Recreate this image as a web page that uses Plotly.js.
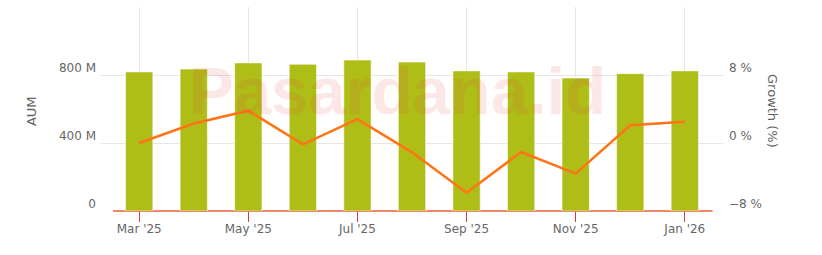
<!DOCTYPE html>
<html>
<head>
<meta charset="utf-8">
<script src="https://cdn.plot.ly/plotly-3.0.1.min.js"></script>
<style>
  html, body { margin: 0; padding: 0; background: #fff; }
  #chart { width: 822px; height: 255px; }
</style>
</head>
<body>
<div id="chart"></div>
<script>
// Data
const months = ["Mar '25", "Apr '25", "May '25", "Jun '25", "Jul '25", "Aug '25",
                "Sep '25", "Oct '25", "Nov '25", "Dec '25", "Jan '26"];
const aumMillions = [818, 835, 871, 863, 888, 876, 824, 818, 782, 808, 824];
const growthPct = [0, 2.3, 3.8, -0.15, 2.8, -1.1, -5.85, -1.06, -3.6, 2.08, 2.5];

const xTickVals = ["Mar '25", "May '25", "Jul '25", "Sep '25", "Nov '25", "Jan '26"];
const aumTickVals = [0, 400, 800, 1200];
const aumTickText = ["0", "400 M", "800 M", ""];
const growthTickVals = [-8, 0, 8, 16];
const growthTickText = ["\u22128 %", "0 %", "8 %", ""];

const fontFamily = "DejaVu Sans, Verdana, sans-serif";
const gray = "#666666";

const traces = [
  {
    type: "bar",
    x: months,
    y: aumMillions,
    yaxis: "y",
    width: 0.5,
    marker: { color: "#afbd17", line: { color: "rgba(255,255,255,0.55)", width: 1 } },
    hoverinfo: "x+y",
    name: "AUM"
  },
  {
    type: "scatter",
    mode: "lines",
    x: months,
    y: growthPct,
    yaxis: "y2",
    line: { color: "#ff7417", width: 2.5 },
    name: "Growth (%)"
  }
];

const layout = {
  width: 822,
  height: 255,
  margin: { l: 101, r: 99, t: 7, b: 44 },
  paper_bgcolor: "#ffffff",
  plot_bgcolor: "#ffffff",
  showlegend: false,
  font: { family: fontFamily, size: 12, color: gray },
  xaxis: {
    type: "category",
    range: [-0.7, 10.7],
    tickvals: xTickVals,
    ticktext: xTickVals,
    ticks: "outside",
    ticklen: 10,
    tickwidth: 1,
    tickcolor: "#d9363e",
    ticklabelstandoff: -3,
    showgrid: true,
    gridcolor: "#e6e6e6",
    gridwidth: 1,
    showline: false,
    zeroline: false,
    tickfont: { family: fontFamily, size: 12, color: gray },
    fixedrange: true
  },
  yaxis: {
    range: [0, 1200],
    tickvals: aumTickVals,
    ticktext: aumTickText,
    showgrid: true,
    gridcolor: "#e6e6e6",
    gridwidth: 1,
    zeroline: false,
    showline: false,
    ticks: "",
    ticklabelstandoff: 4,
    ticklabelshift: -7,
    tickfont: { family: fontFamily, size: 12, color: gray },
    fixedrange: true
  },
  yaxis2: {
    overlaying: "y",
    side: "right",
    range: [-8, 16],
    tickvals: growthTickVals,
    ticktext: growthTickText,
    showgrid: false,
    zeroline: false,
    showline: false,
    ticks: "",
    ticklabelstandoff: 5,
    ticklabelshift: -7,
    tickfont: { family: fontFamily, size: 12, color: gray },
    fixedrange: true
  },
  shapes: [
    {
      type: "line",
      xref: "x",
      yref: "paper",
      x0: -0.48, x1: 10.51,
      y0: 0, y1: 0,
      line: { color: "#f0876a", width: 2 },
      layer: "below"
    }
  ],
  annotations: [
    {
      text: "AUM",
      xref: "paper", yref: "paper",
      x: 0, y: 0.49,
      xanchor: "center", yanchor: "middle",
      xshift: -70,
      textangle: -90,
      showarrow: false,
      font: { family: fontFamily, size: 13, color: gray }
    },
    {
      text: "Growth (%)",
      xref: "paper", yref: "paper",
      x: 1, y: 0.49,
      xanchor: "center", yanchor: "middle",
      xshift: 50,
      textangle: 90,
      showarrow: false,
      font: { family: fontFamily, size: 13, color: gray }
    },
    {
      text: "<b>Pasardana.id</b>",
      xref: "paper", yref: "paper",
      x: 0.477, y: 0.59,
      xanchor: "center", yanchor: "middle",
      showarrow: false,
      font: { family: "Liberation Sans, Arial, sans-serif", size: 67, color: "rgba(228,60,60,0.12)" }
    }
  ]
};

Plotly.newPlot("chart", traces, layout, { displayModeBar: false, staticPlot: true });
</script>
</body>
</html>
